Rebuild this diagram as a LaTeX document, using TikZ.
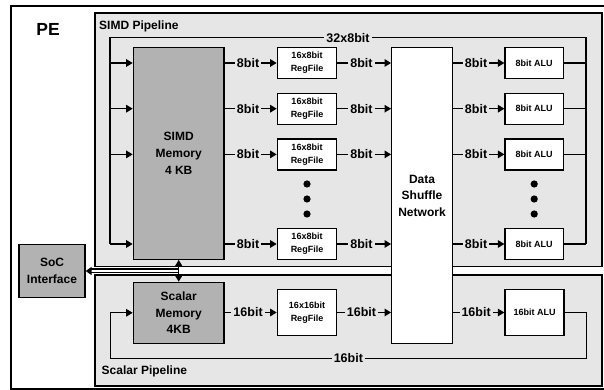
\documentclass[tikz,border=0pt]{standalone}
\usepackage{fontspec}
\setmainfont{Liberation Sans}
\usepackage{tikz}
\usetikzlibrary{arrows.meta,calc,positioning}
\definecolor{Pipe}{RGB}{230, 230, 230}
\definecolor{Mem}{RGB}{178, 178, 178}

\begin{document}
\begin{tikzpicture}[x=1pt, y=1pt,
    frame/.style={line width=1.3pt},
    memory/.style={draw, line width=1.3pt, fill=Mem, inner sep=0pt, align=center,
        font=\fontsize{12}{16.7}\selectfont\bfseries},
    unit/.style={draw, line width=1.3pt, fill=white, inner sep=0pt, align=center,
        font=\fontsize{9}{13}\selectfont\bfseries},
    bitlbl/.style={fill=Pipe, inner sep=2pt, pos=0.45,
        font=\fontsize{12.5}{14}\selectfont\bfseries},
    title/.style={inner sep=0pt, anchor=west, font=\fontsize{12}{14}\selectfont\bfseries},
    conn/.style={line width=1.3pt, -{Triangle[length=6.5pt, width=7.5pt]}},
    bus/.style={line width=1.4pt},
    fb/.style={line width=0.9pt, -{Triangle[length=6.5pt, width=7.5pt]}},
    ]
    %% Background
    \useasboundingbox (0,0) rectangle (604,390);

    %% PE
    \draw[frame, fill=white] (11,1) rectangle (606,384);
    \node[font=\fontsize{17.5}{20}\selectfont\bfseries] (pe) at (48,361) {PE};

    %% Pipelines
    \draw[frame, fill=Pipe] (95,123.5) rectangle (602,377);
    \node[title] (simdtitle) at (99,364) {SIMD Pipeline};
    \draw[frame, fill=Pipe] (95,4) rectangle (602,115);
    \node[title] (scalartitle) at (101.5,19) {Scalar Pipeline};

    %% SIMD
    \node[memory, minimum width=90.7, minimum height=211.6] (smem) at (178.7,236.5)
        {SIMD\\Memory\\4 KB};
    \node[unit, minimum width=60.6, minimum height=295.6,
        font=\fontsize{12}{16.5}\selectfont\bfseries] (dsn) at (422,194.5)
        {Data\\Shuffle\\Network};
    \foreach \r/\y in {1/327, 2/281.3, 3/235.6, 4/146} {
        \node[unit, minimum width=59.4, minimum height=31] (rf\r) at (307,\y)
            {16x8bit\\RegFile};
        \node[unit, minimum width=58.3, minimum height=31] (alu\r) at (534.2,\y)
            {8bit ALU};
    }
    \foreach \x in {307,534.2}
        \foreach \y in {206,191,176}
            \fill (\x,\y) circle (3.6);

    \coordinate (busL) at (110,352.3);
    \coordinate (busR) at (586,352.3);
    \draw[bus] (busL |- rf4) -- (busL) -- node[bitlbl, pos=0.5]{32x8bit} (busR)
        -- (busR |- alu4);

    \foreach \r in {1,...,4} {
        \draw[conn] (busL |- rf\r) -- (smem.west |- rf\r);
        \draw[conn] (smem.east |- rf\r) -- node[bitlbl]{8bit} (rf\r);
        \draw[conn] (rf\r) -- node[bitlbl]{8bit} (dsn.west |- rf\r);
        \draw[conn] (dsn.east |- alu\r) -- node[bitlbl]{8bit} (alu\r);
        \draw[bus] (alu\r) -- (alu\r -| busR);
    }

    %% Scalar
    \node[memory, minimum width=90.7, minimum height=61] (scmem) at (178.7,77.2)
        {Scalar\\Memory\\4KB};
    \node[unit, minimum width=59.4, minimum height=46.4] (rf16) at (307,77.5)
        {16x16bit\\RegFile};
    \node[unit, minimum width=59, minimum height=46.4] (alu16) at (534.5,77.5)
        {16bit ALU};

    \draw[conn] (scmem.east |- rf16) -- node[bitlbl]{16bit} (rf16);
    \draw[conn] (rf16) -- node[bitlbl]{16bit} (dsn.west |- rf16);
    \draw[conn] (dsn.east |- alu16) -- node[bitlbl]{16bit} (alu16);

    \coordinate (fbR) at (586.7,31.7);
    \coordinate (fbL) at (110,31.7);
    \draw[fb] (alu16) -- (alu16 -| fbR) -- (fbR) -- node[bitlbl, pos=0.5]{16bit} (fbL)
        -- (fbL |- scmem) -- (scmem);

    %% SoC
    \node[memory, minimum width=66, minimum height=53.4] (soc) at (52,119)
        {SoC\\Interface};
    \coordinate (tap) at (smem |- soc);
    \draw[line width=1.5pt, double, double distance=2pt,
        -{Triangle[length=6pt, width=8pt]}] (tap) -- (soc.east);
    \draw[line width=1.3pt, {Triangle[length=6.5pt, width=7.5pt]}-{Triangle[length=6.5pt, width=7.5pt]}]
        (smem) -- (scmem);

\end{tikzpicture}
\end{document}
